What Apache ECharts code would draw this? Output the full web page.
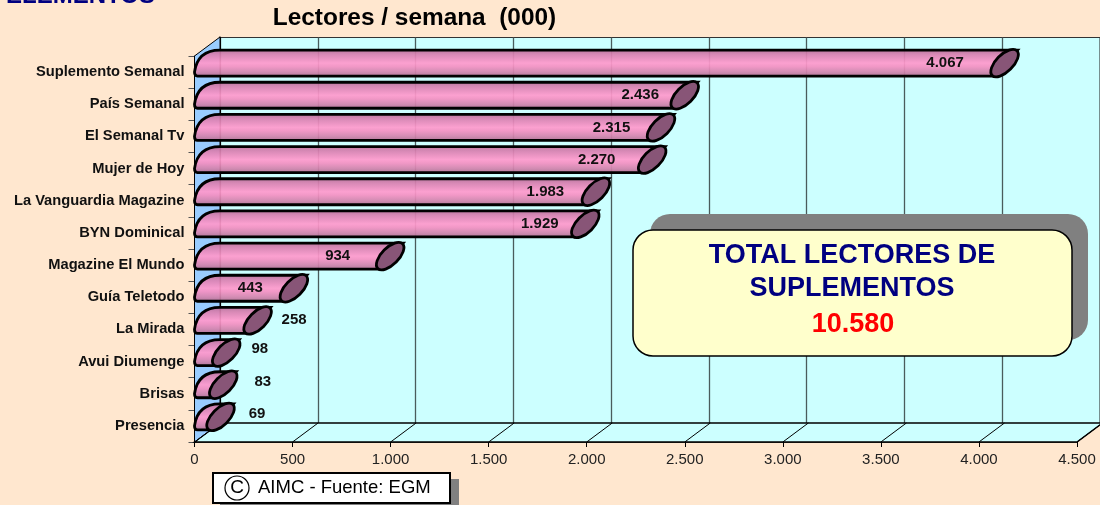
<!DOCTYPE html>
<html>
<head>
<meta charset="utf-8">
<style>html,body{margin:0;padding:0;background:#ffe7cf}#main{width:1100px;height:505px}</style>
<script src="https://cdn.jsdelivr.net/npm/echarts@6/dist/echarts.min.js"></script>
</head>
<body>
<div id="main"></div>
<script>
var categories = ['Suplemento Semanal','País Semanal','El Semanal Tv','Mujer de Hoy','La Vanguardia Magazine','BYN Dominical','Magazine El Mundo','Guía Teletodo','La Mirada','Avui Diumenge','Brisas','Presencia'];
var readers = [4067,2436,2315,2270,1983,1929,934,443,258,98,83,69];
var valueLabels = ['4.067','2.436','2.315','2.270','1.983','1.929','934','443','258','98','83','69'];
var xTicks = [0,500,1000,1500,2000,2500,3000,3500,4000,4500];

// horizontal nudge of each value label from the bar end, and vertical nudge from the bar middle
var labelShiftX = [-47,-32,-37,-43,-38,-33,-40,-31,49,46,52,49];
var labelShiftY = [0,0,0,0,0,0,0,0,-1,-4,-3,-3];

var depthX = 25.5, depthY = -19;
var barFill = new echarts.graphic.LinearGradient(0,0,0,1,[
    {offset:0,color:'rgba(176,106,146,0.93)'},{offset:0.2,color:'rgba(216,128,176,0.93)'},
    {offset:0.35,color:'rgba(236,140,190,0.93)'},{offset:0.5,color:'rgba(255,153,204,0.93)'},
    {offset:0.62,color:'rgba(244,144,194,0.93)'},{offset:0.8,color:'rgba(212,132,174,0.93)'},
    {offset:1,color:'rgba(168,106,140,0.93)'}
]);

function thousands(v){
    return String(v).replace(/\B(?=(\d{3})+$)/g,'.');
}

// left wall, floor and the slanted floor lines
function renderFloor(params, api){
    var v = api.value(0);
    var p = api.coord([v,11]);
    var y = params.coordSys.y + params.coordSys.height;
    var children = [];
    if(params.dataIndex === 0){
        var x0 = p[0], yTop = params.coordSys.y;
        var xEnd = api.coord([4500,11])[0];
        children.push({type:'polygon',shape:{points:[[x0,y],[x0+depthX,y+depthY],[xEnd+depthX,y+depthY],[xEnd,y]]},
            style:{fill:'#ccffff',stroke:'#000',lineWidth:1.5}});
        children.push({type:'polygon',shape:{points:[[x0,yTop],[x0+depthX,yTop+depthY],[x0+depthX,y+depthY],[x0,y]]},
            style:{fill:'#99ccff',stroke:'#000',lineWidth:1}});
    }
    children.push({type:'line',shape:{x1:p[0],y1:y,x2:p[0]+depthX,y2:y+depthY},style:{stroke:'#000',lineWidth:1}});
    return {type:'group',children:children};
}

function renderBar(params, api){
    var i = api.value(1);
    var x0 = api.coord([0,i])[0];
    var x = api.coord([api.value(0),i])[0];
    var mid = api.coord([0,i])[1];
    var bottom = mid+4, top = mid-22;
    var body = 'M'+(x0+3)+' '+bottom+' Q'+x0+' '+bottom+' '+x0+' '+(bottom-4)
        +' Q'+(x0+3)+' '+top+' '+(x0+depthX)+' '+top
        +' L'+(x+depthX)+' '+top+' L'+(x+4)+' '+bottom+' Z';
    return {type:'group',children:[
        {type:'path',shape:{pathData:body},style:{fill:barFill,stroke:'#000',lineWidth:2.8}},
        {type:'ellipse',x:x+12.5,y:mid-9,rotation:Math.PI/4,
            shape:{cx:0,cy:0,rx:17.5,ry:8.5},style:{fill:'#885577',stroke:'#000',lineWidth:2.8}},
        {type:'text',x:x+labelShiftX[i],y:mid-9+labelShiftY[i],z2:10,
            style:{text:valueLabels[i],fill:'#111',font:'bold 15px "Liberation Sans"',align:'center',verticalAlign:'middle'}}
    ]};
}

var chart = echarts.init(document.getElementById('main'));
chart.setOption({
    animation:false,
    backgroundColor:'#ffe7cf',
    textStyle:{fontFamily:'"Liberation Sans"'},
    title:{text:'Lectores / semana  (000)',left:409.5,top:1,textAlign:'center',
        textStyle:{fontSize:24.4,fontWeight:'bold',color:'#000'}},
    grid:[
        {left:194.5,top:56,width:882.5,height:386},
        // back wall, same scale as the front axis
        {left:220,top:37.5,width:882.5,height:386,show:true,backgroundColor:'#ccffff',borderColor:'#333',borderWidth:1}
    ],
    xAxis:[
        {type:'value',gridIndex:0,min:0,max:4500,interval:500,
            axisLine:{show:true,lineStyle:{color:'#000',width:1.5}},
            axisTick:{show:true,length:5,lineStyle:{color:'#000'}},
            splitLine:{show:false},
            axisLabel:{formatter:thousands,fontSize:15,color:'#222',margin:10,hideOverlap:false}},
        {type:'value',gridIndex:1,min:0,max:4500,interval:500,
            axisLine:{show:false},axisTick:{show:false},axisLabel:{show:false},
            splitLine:{show:true,lineStyle:{color:'#4a5c5c',width:1.3}}}
    ],
    yAxis:[
        {type:'category',gridIndex:0,inverse:true,data:categories,
            axisLine:{show:true,lineStyle:{color:'#000',width:1.5}},
            axisTick:{show:true,length:6,alignWithLabel:false,lineStyle:{color:'#555'}},
            axisLabel:{fontSize:14.7,fontWeight:'bold',color:'#111',margin:10,interval:0}},
        {type:'value',gridIndex:1,
            axisLine:{show:true,lineStyle:{color:'#000',width:2}},
            axisTick:{show:false},axisLabel:{show:false},splitLine:{show:false}}
    ],
    series:[
        {type:'custom',xAxisIndex:0,yAxisIndex:0,renderItem:renderFloor,silent:true,z:1,
            data:xTicks.map(function(t){return [t];}),encode:{x:0}},
        {type:'custom',xAxisIndex:0,yAxisIndex:0,renderItem:renderBar,z:3,clip:false,
            data:readers.map(function(r,i){return [r,i];}),encode:{x:0,y:1}}
    ],
    graphic:[
        {type:'text',left:6,top:-16,z:20,style:{text:'ELEMENTOS',fill:'#000080',font:'bold 24px "Liberation Sans"'}},
        {type:'rect',z:20,shape:{x:650,y:214,width:438,height:126,r:20},style:{fill:'#808080'}},
        {type:'rect',z:21,shape:{x:633,y:230,width:439,height:126,r:20},style:{fill:'#ffffcc',stroke:'#000',lineWidth:1.5}},
        {type:'text',z:22,x:852,y:256,style:{text:'TOTAL LECTORES DE',fill:'#000080',font:'bold 27px "Liberation Sans"',align:'center',verticalAlign:'middle'}},
        {type:'text',z:22,x:852,y:289,style:{text:'SUPLEMENTOS',fill:'#000080',font:'bold 27px "Liberation Sans"',align:'center',verticalAlign:'middle'}},
        {type:'text',z:22,x:853,y:325,style:{text:'10.580',fill:'#ff0000',font:'bold 27px "Liberation Sans"',align:'center',verticalAlign:'middle'}},
        {type:'rect',z:20,shape:{x:220,y:479,width:239,height:26},style:{fill:'#808080'}},
        {type:'rect',z:21,shape:{x:213,y:473,width:237,height:30},style:{fill:'#fff',stroke:'#000',lineWidth:2}},
        {type:'circle',z:22,shape:{cx:237,cy:488,r:12},style:{fill:'none',stroke:'#000',lineWidth:1.2}},
        {type:'text',z:22,x:237,y:488,style:{text:'C',fill:'#000',font:'19px "Liberation Sans"',align:'center',verticalAlign:'middle'}},
        {type:'text',z:22,x:258,y:488,style:{text:'AIMC - Fuente: EGM',fill:'#000',font:'18.5px "Liberation Sans"',align:'left',verticalAlign:'middle'}}
    ]
});
</script>
</body>
</html>
